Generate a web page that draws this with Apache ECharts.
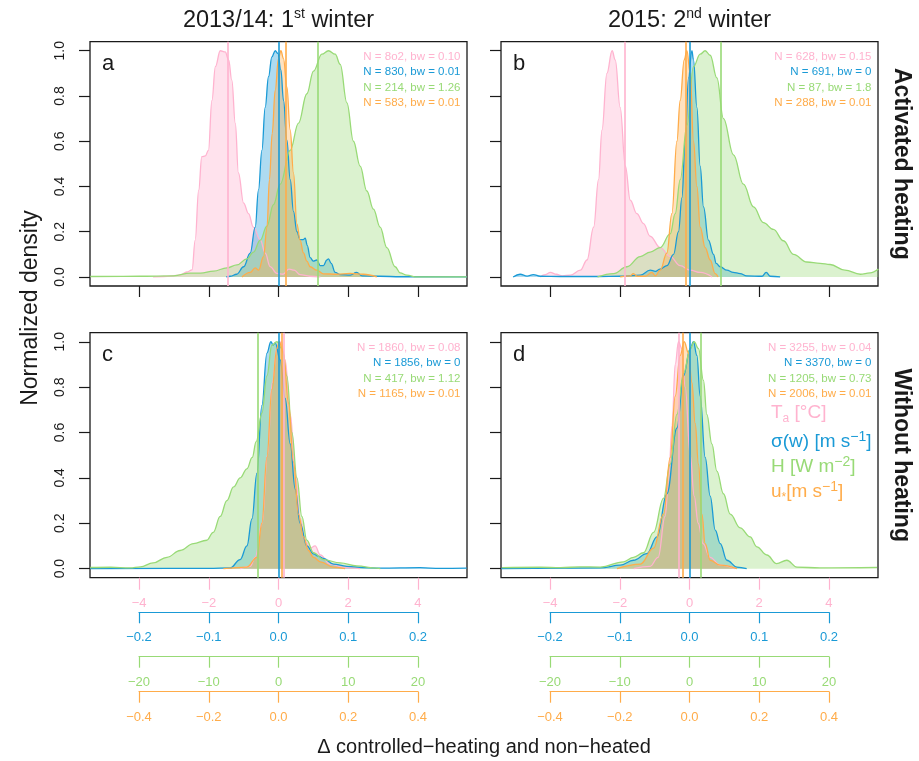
<!DOCTYPE html>
<html>
<head>
<meta charset="utf-8">
<script src="https://cdn.jsdelivr.net/npm/echarts@6/dist/echarts.min.js"></script>
<style>
  html, body { margin: 0; padding: 0; background: #ffffff; }
  #chart { width: 919px; height: 761px; }
</style>
</head>
<body>
<div id="chart"></div>
<script>
// ---------- tick values of the four variable scales ----------
const taTicks = [-4, -2, 0, 2, 4];            // Ta [°C]
const sigmaTicks = [-0.2, -0.1, 0, 0.1, 0.2]; // sigma(w) [m s-1]
const hTicks = [-20, -10, 0, 10, 20];         // H [W m-2]
const ustarTicks = [-0.4, -0.2, 0, 0.2, 0.4]; // u* [m s-1]
const densityTicks = [0, 0.2, 0.4, 0.6, 0.8, 1.0];

// ---------- column / row headings ----------
const winterTitles = [['2013/14: 1', 'st', ' winter'], ['2015: 2', 'nd', ' winter']];
const rowTitles = ['Activated heating', 'Without heating'];
const xTitle = '\u0394 controlled\u2212heating and non\u2212heated';
const yTitle = 'Normalized density';
const panelLetters = ['a', 'b', 'c', 'd'];

// ---------- normalized densities [difference, density] ----------
// 2013/14, activated heating
const taHeated1314 = [[-3.6,0],[-3.3,0.002],[-2.82,0.008],[-2.63,0.022],[-2.48,0.031],[-2.39,0.163],[-2.29,0.384],[-2.2,0.532],[-2.1,0.535],[-2.01,0.56],[-1.91,0.78],[-1.81,0.93],[-1.67,1.0],[-1.53,0.995],[-1.43,0.96],[-1.34,0.87],[-1.24,0.68],[-1.15,0.46],[-1.0,0.326],[-0.86,0.28],[-0.72,0.22],[-0.52,0.163],[-0.38,0.105],[-0.24,0.046],[-0.05,0.016],[0.13,0.012],[0.3,0.035],[0.45,0.03],[0.62,0.01],[0.9,0.003],[1.2,0]];
const sigmaHeated1314 = [[-0.075,0],[-0.069,0.003],[-0.06,0.012],[-0.05,0.045],[-0.0406,0.105],[-0.0334,0.22],[-0.0287,0.385],[-0.0238,0.56],[-0.0191,0.75],[-0.0143,0.885],[-0.0095,0.973],[-0.0047,1.0],[-0.0009,0.988],[0.0034,0.915],[0.0072,0.78],[0.012,0.605],[0.0168,0.43],[0.0215,0.29],[0.0264,0.2],[0.0311,0.165],[0.0354,0.165],[0.0383,0.172],[0.0412,0.14],[0.0455,0.085],[0.0498,0.07],[0.055,0.075],[0.0598,0.05],[0.0645,0.05],[0.0694,0.075],[0.0717,0.08],[0.0756,0.06],[0.0813,0.02],[0.0885,0.01],[0.103,0.008],[0.112,0.02],[0.12,0.005],[0.146,0.003],[0.175,0.001],[0.27,0]];
const hHeated1314 = [[-27,0.002],[-20,0.003],[-15.05,0.005],[-12.66,0.017],[-11.2,0.017],[-9.32,0.026],[-7.4,0.04],[-5.96,0.053],[-4.53,0.08],[-3.58,0.11],[-2.62,0.163],[-1.66,0.225],[-0.72,0.32],[0.24,0.41],[1.68,0.56],[2.87,0.68],[4.07,0.81],[5.02,0.91],[6.22,0.985],[7.17,1.0],[8.13,0.985],[8.85,0.94],[9.81,0.77],[10.75,0.6],[11.71,0.49],[12.67,0.38],[13.62,0.3],[14.58,0.22],[15.54,0.13],[16.73,0.045],[17.45,0.018],[18.4,0.008],[19.84,0],[27,0]];
const ustarHeated1314 = [[-0.105,0],[-0.081,0.02],[-0.067,0.04],[-0.057,0.03],[-0.043,0.09],[-0.033,0.22],[-0.026,0.43],[-0.018,0.635],[-0.0095,0.825],[0,0.965],[0.0069,1.0],[0.0143,0.965],[0.024,0.84],[0.0335,0.65],[0.043,0.46],[0.0527,0.235],[0.062,0.163],[0.0717,0.106],[0.0814,0.07],[0.0909,0.045],[0.11,0.03],[0.129,0.014],[0.167,0.012],[0.2055,0.016],[0.2437,0.012],[0.282,0]];

// 2015, activated heating
const taHeated2015 = [[-4.28,0],[-4.14,0.01],[-3.99,0.02],[-3.82,0.012],[-3.65,0.005],[-3.42,0.008],[-3.13,0.03],[-2.94,0.075],[-2.75,0.22],[-2.61,0.43],[-2.51,0.65],[-2.37,0.9],[-2.22,1.0],[-2.13,0.96],[-1.99,0.75],[-1.84,0.49],[-1.7,0.34],[-1.51,0.28],[-1.32,0.236],[-1.13,0.18],[-0.84,0.13],[-0.55,0.09],[-0.27,0.05],[0.02,0.03],[0.31,0.02],[0.65,0]];
const sigmaHeated2015 = [[-0.253,0],[-0.243,0.012],[-0.233,0.004],[-0.224,0.01],[-0.214,0.003],[-0.185,0.002],[-0.131,0.002],[-0.099,0.003],[-0.0707,0.008],[-0.0564,0.03],[-0.049,0.025],[-0.042,0.035],[-0.0324,0.05],[-0.0229,0.1],[-0.0158,0.2],[-0.0109,0.35],[-0.0062,0.6],[-0.0014,0.88],[0.0034,1.0],[0.0057,0.96],[0.0106,0.75],[0.0153,0.49],[0.0201,0.31],[0.0272,0.163],[0.0344,0.1],[0.0383,0.06],[0.044,0.045],[0.0536,0.03],[0.0627,0.02],[0.0727,0.015],[0.082,0.005],[0.104,0.003],[0.11,0.02],[0.116,0.003],[0.13,0]];
const hHeated2015 = [[-13.2,0],[-10.9,0.015],[-8.97,0.045],[-7.07,0.09],[-5.63,0.11],[-4.2,0.13],[-2.77,0.19],[-2.05,0.28],[-1.33,0.43],[-0.37,0.67],[0.57,0.93],[1.53,0.985],[2.25,1.0],[2.97,0.98],[3.93,0.88],[4.87,0.7],[6.31,0.54],[7.74,0.41],[9.18,0.31],[10.61,0.24],[12.04,0.21],[13.48,0.16],[14.91,0.1],[16.83,0.066],[18.74,0.06],[20.17,0.055],[22.3,0.03],[24.5,0.012],[25.9,0.018],[27.1,0.035]];
const ustarHeated2015 = [[-0.199,0],[-0.17,0.005],[-0.161,0.015],[-0.15,0.003],[-0.127,0.003],[-0.108,0.02],[-0.098,0.005],[-0.084,0.03],[-0.065,0.105],[-0.0505,0.28],[-0.0361,0.6],[-0.0267,0.78],[-0.0152,0.96],[-0.0075,1.0],[0.002,0.9],[0.0115,0.6],[0.0212,0.4],[0.0307,0.22],[0.045,0.13],[0.0593,0.075],[0.0737,0.015],[0.082,0]];

// 2013/14, without heating
const taUnheated1314 = [[-1.1,0],[-0.81,0.01],[-0.67,0.05],[-0.47,0.2],[-0.32,0.5],[-0.18,0.82],[-0.04,0.98],[0.08,1.0],[0.19,0.92],[0.34,0.68],[0.48,0.42],[0.62,0.22],[0.77,0.12],[0.91,0.09],[1.05,0.1],[1.2,0.06],[1.48,0.02],[1.91,0.005],[2.34,0]];
const sigmaUnheated1314 = [[-0.27,0],[-0.1,0.001],[-0.0693,0.003],[-0.055,0.04],[-0.0453,0.1],[-0.038,0.22],[-0.031,0.42],[-0.0238,0.72],[-0.0166,0.95],[-0.0109,1.0],[-0.0076,0.985],[-0.0047,0.995],[0.0024,0.92],[0.0096,0.75],[0.0168,0.55],[0.024,0.35],[0.031,0.2],[0.0407,0.1],[0.0502,0.065],[0.057,0.055],[0.0645,0.045],[0.0789,0.02],[0.098,0.01],[0.122,0.005],[0.146,0.002],[0.203,0.004],[0.232,0.001],[0.27,0.002]];
const hUnheated1314 = [[-27,0.005],[-24.1,0.006],[-21.3,0.003],[-19.8,0.008],[-18,0.025],[-16,0.05],[-14.1,0.08],[-12.2,0.11],[-10.3,0.125],[-9.36,0.16],[-8.36,0.23],[-7.4,0.3],[-6.45,0.36],[-5.49,0.4],[-4.53,0.44],[-3.77,0.49],[-3.2,0.56],[-2.38,0.686],[-1.66,0.85],[-0.95,0.985],[-0.23,1.0],[0.49,0.97],[1.2,0.85],[1.92,0.6],[2.64,0.4],[3.35,0.23],[4.07,0.125],[5.02,0.07],[6.45,0.04],[8.85,0.025],[11.24,0.012],[14.1,0.002],[14.6,0]];
const ustarUnheated1314 = [[-0.158,0],[-0.0906,0.007],[-0.062,0.05],[-0.0476,0.2],[-0.0333,0.49],[-0.0189,0.79],[-0.0046,0.97],[0.002,1.0],[0.0143,0.95],[0.0287,0.73],[0.043,0.47],[0.0573,0.24],[0.0717,0.14],[0.086,0.08],[0.1,0.05],[0.12,0.03],[0.158,0.007],[0.191,0]];

// 2015, without heating
const taUnheated2015 = [[-1.6,0],[-1.13,0.01],[-0.9,0.05],[-0.7,0.23],[-0.6,0.39],[-0.5,0.63],[-0.41,0.9],[-0.315,1.0],[-0.22,0.97],[-0.123,0.8],[0.02,0.5],[0.135,0.32],[0.25,0.2],[0.39,0.11],[0.59,0.05],[0.88,0.015],[1.31,0]];
const sigmaUnheated2015 = [[-0.27,0],[-0.128,0.003],[-0.0994,0.015],[-0.0803,0.037],[-0.0611,0.066],[-0.0467,0.14],[-0.0324,0.33],[-0.018,0.62],[-0.0086,0.85],[0.001,0.97],[0.0057,1.0],[0.0106,0.94],[0.0153,0.76],[0.0225,0.49],[0.0297,0.32],[0.0369,0.17],[0.0441,0.11],[0.0536,0.037],[0.068,0.007],[0.082,0]];
const hUnheated2015 = [[-26.9,0.004],[-21.4,0.006],[-18.5,0.004],[-15.7,0.008],[-12.8,0.007],[-9.46,0.03],[-8.03,0.05],[-6.6,0.07],[-5.16,0.16],[-3.73,0.31],[-2.77,0.46],[-1.81,0.68],[-0.86,0.86],[0.1,0.97],[0.67,1.0],[1.29,0.97],[2.0,0.83],[2.49,0.68],[3.21,0.55],[3.93,0.43],[4.87,0.33],[5.84,0.24],[7.27,0.18],[8.7,0.14],[9.66,0.096],[11.1,0.06],[12.5,0.022],[13.96,0.037],[15.4,0.007],[18.7,0.003],[26.9,0.005]];
const ustarUnheated2015 = [[-0.208,0],[-0.141,0.02],[-0.103,0.09],[-0.0745,0.24],[-0.0553,0.49],[-0.041,0.76],[-0.0267,0.94],[-0.0152,1.0],[-0.0029,0.95],[0.0069,0.82],[0.0163,0.64],[0.0258,0.46],[0.0356,0.24],[0.045,0.11],[0.0593,0.037],[0.088,0.015],[0.136,0]];

// medians (Ta, sigma(w), H, u*) drawn as vertical lines
const mediansHeated1314 = [-1.46, 0.001, 5.65, 0.0155];
const mediansHeated2015 = [-1.87, 0.002, 4.5, -0.0075];
const mediansUnheated1314 = [0.16, 0.0, -3.01, 0.0126];
const mediansUnheated2015 = [-0.324, 0.0, 1.63, -0.0172];

// sample sizes and kernel bandwidths
const infoHeated1314 = ['N = 8o2, bw = 0.10', 'N = 830, bw = 0.01', 'N = 214, bw = 1.26', 'N = 583, bw = 0.01'];
const infoHeated2015 = ['N = 628, bw = 0.15', 'N = 691, bw = 0', 'N = 87, bw = 1.8', 'N = 288, bw = 0.01'];
const infoUnheated1314 = ['N = 1860, bw = 0.08', 'N = 1856, bw = 0', 'N = 417, bw = 1.12', 'N = 1165, bw = 0.01'];
const infoUnheated2015 = ['N = 3255, bw = 0.04', 'N = 3370, bw = 0', 'N = 1205, bw = 0.73', 'N = 2006, bw = 0.01'];

// ---------- styling ----------
const FONT = '"Liberation Sans", Arial, Helvetica, sans-serif';
const INK = '#1a1a1a';
const lineColors = ['#FFB3CF', '#1A9AD6', '#98DA76', '#FFAC4A'];
const fillColors = ['rgba(255,179,207,0.55)', 'rgba(26,154,214,0.5)', 'rgba(152,218,118,0.5)', 'rgba(255,172,74,0.5)'];
const tickSets = [taTicks, sigmaTicks, hTicks, ustarTicks];
const tickDigits = [0, 1, 0, 1];
const EXPAND = 1.352; // plotting range beyond the outer ticks

function tickText(v, digits) {
  return v.toFixed(digits).replace('-', '\u2212');
}

const colCenters = [278.5, 689.5];
const HALF = 139.5; // px from centre to outer tick
const panels = [
  { col: 0, top: 41.7, height: 244.3, curves: [taHeated1314, sigmaHeated1314, hHeated1314, ustarHeated1314], medians: mediansHeated1314, info: infoHeated1314 },
  { col: 1, top: 41.7, height: 244.3, curves: [taHeated2015, sigmaHeated2015, hHeated2015, ustarHeated2015], medians: mediansHeated2015, info: infoHeated2015 },
  { col: 0, top: 332.7, height: 245, curves: [taUnheated1314, sigmaUnheated1314, hUnheated1314, ustarUnheated1314], medians: mediansUnheated1314, info: infoUnheated1314 },
  { col: 1, top: 332.7, height: 245, curves: [taUnheated2015, sigmaUnheated2015, hUnheated2015, ustarUnheated2015], medians: mediansUnheated2015, info: infoUnheated2015 }
];
const PANEL_W = 377;

const grid = [], xAxis = [], yAxis = [], series = [], graphic = [];

panels.forEach((p, pi) => {
  const left = colCenters[p.col] - PANEL_W / 2;
  const bottomRow = pi >= 2;
  grid.push({ left: left, top: p.top, width: PANEL_W, height: p.height, show: true,
    borderColor: INK, borderWidth: 1.3, backgroundColor: 'transparent', containLabel: false, outerBoundsMode: 'none' });

  for (let vi = 0; vi < 4; vi++) {
    const tmax = tickSets[vi][tickSets[vi].length - 1];
    const ax = { gridIndex: pi, type: 'value', min: -tmax * EXPAND, max: tmax * EXPAND,
      position: 'bottom', show: vi === 0, splitLine: { show: false }, axisLine: { show: false, onZero: false } };
    if (vi === 0) {
      ax.axisTick = { show: true, inside: false, customValues: taTicks, length: bottomRow ? 12 : 11,
        lineStyle: { color: bottomRow ? lineColors[0] : INK, width: 1.2 } };
      ax.axisLabel = bottomRow
        ? { show: true, customValues: taTicks, color: lineColors[0], fontSize: 13, fontFamily: FONT, margin: 19,
            showMinLabel: true, showMaxLabel: true, formatter: v => tickText(v, 0) }
        : { show: false };
    }
    xAxis.push(ax);
  }

  yAxis.push({ gridIndex: pi, type: 'value', min: -0.04, max: 1.04, position: 'left',
    axisLine: { show: false, onZero: false }, splitLine: { show: false },
    axisTick: { show: true, customValues: densityTicks, length: 11, lineStyle: { color: INK, width: 1.2 } },
    axisLabel: { show: p.col === 0, customValues: densityTicks, rotate: 90, margin: 23, fontSize: 14,
      color: INK, fontFamily: FONT, formatter: v => v.toFixed(1) } });

  for (let vi = 0; vi < 4; vi++) {
    series.push({
      type: 'line', xAxisIndex: pi * 4 + vi, yAxisIndex: pi, data: p.curves[vi],
      symbol: 'none', smooth: 0.4, smoothMonotone: 'x', silent: true, animation: false,
      lineStyle: { color: lineColors[vi], width: 1.3 }, itemStyle: { color: lineColors[vi] },
      areaStyle: { color: fillColors[vi] },
      markLine: { silent: true, symbol: ['none', 'none'], animation: false, label: { show: false },
        lineStyle: { color: lineColors[vi], width: 1.6, type: 'solid' },
        data: [{ xAxis: p.medians[vi] }] }
    });
  }

  // panel letter
  graphic.push({ type: 'text', x: left + 12, y: p.top + 22,
    style: { text: panelLetters[pi], fontSize: 22, fontFamily: FONT, fill: INK, align: 'left', verticalAlign: 'middle' } });
  // N / bandwidth notes
  const offs = [15, 30.5, 46, 61.5];
  p.info.forEach((t, i) => {
    graphic.push({ type: 'text', x: left + PANEL_W - 6.5, y: p.top + offs[i],
      style: { text: t, fontSize: 11.5, fontFamily: FONT, fill: lineColors[i], align: 'right', verticalAlign: 'middle' } });
  });
});

// stacked scales for sigma(w), H and u* under each column
const scaleLineY = [612.3, 656.7, 691.7];
[0, 1].forEach(col => {
  for (let vi = 1; vi < 4; vi++) {
    const gi = grid.length;
    grid.push({ left: colCenters[col] - HALF, width: 2 * HALF, top: scaleLineY[vi - 1] - 1, height: 1,
      show: false, containLabel: false, outerBoundsMode: 'none' });
    yAxis.push({ gridIndex: gi, type: 'value', min: 0, max: 1, show: false });
    const ticks = tickSets[vi];
    const tmax = ticks[ticks.length - 1];
    xAxis.push({ gridIndex: gi, type: 'value', min: -tmax, max: tmax, position: 'bottom',
      splitLine: { show: false },
      axisLine: { show: true, onZero: false, lineStyle: { color: lineColors[vi], width: 1.2 } },
      axisTick: { show: true, inside: false, customValues: ticks, length: 11, lineStyle: { color: lineColors[vi], width: 1.2 } },
      axisLabel: { show: true, customValues: ticks, color: lineColors[vi], fontSize: 13, fontFamily: FONT, margin: 19,
        showMinLabel: true, showMaxLabel: true, formatter: v => tickText(v, tickDigits[vi]) } });
  }
});

// column titles
winterTitles.forEach((t, c) => {
  graphic.push({ type: 'text', x: colCenters[c], y: 21,
    style: { text: '{m|' + t[0] + '}{s|' + t[1] + '}{m|' + t[2] + '}', align: 'center', verticalAlign: 'middle',
      rich: { m: { fontSize: 23.5, fontFamily: FONT, fill: INK, lineHeight: 28 },
              s: { fontSize: 14, fontFamily: FONT, fill: INK, verticalAlign: 'top', lineHeight: 28 } } } });
});
// row titles
rowTitles.forEach((t, r) => {
  const p = panels[r * 2];
  graphic.push({ type: 'text', x: 901, y: p.top + p.height / 2, rotation: -Math.PI / 2,
    style: { text: t, fontSize: 23, fontWeight: 'bold', fontFamily: FONT, fill: INK, align: 'center', verticalAlign: 'middle' } });
});
// axis titles
graphic.push({ type: 'text', x: 31, y: 308, rotation: Math.PI / 2,
  style: { text: yTitle, fontSize: 23, fontFamily: FONT, fill: INK, align: 'center', verticalAlign: 'middle' } });
graphic.push({ type: 'text', x: 484, y: 747,
  style: { text: xTitle, fontSize: 20, fontFamily: FONT, fill: INK, align: 'center', verticalAlign: 'middle' } });

// variable key in the lower-right panel
const keyTexts = [
  { text: '{m|T}{sub|a}{m| [\u00B0C]}', color: lineColors[0] },
  { text: '{m|\u03C3(w) [m s}{sup|\u22121}{m|]}', color: lineColors[1] },
  { text: '{m|H [W m}{sup|\u22122}{m|]}', color: lineColors[2] },
  { text: '{m|u}{sub|*}{m|[m s}{sup|\u22121}{m|]}', color: lineColors[3] }
];
const keyY = [413, 442, 467, 492];
keyTexts.forEach((k, i) => {
  graphic.push({ type: 'text', x: 771, y: keyY[i],
    style: { text: k.text, align: 'left', verticalAlign: 'middle',
      rich: { m: { fontSize: 19, fontFamily: FONT, fill: k.color, lineHeight: 24 },
              sup: { fontSize: 14, fontFamily: FONT, fill: k.color, verticalAlign: 'top', lineHeight: 24 },
              sub: { fontSize: 12, fontFamily: FONT, fill: k.color, verticalAlign: 'bottom', lineHeight: 24 } } } });
});

const chart = echarts.init(document.getElementById('chart'), null, { renderer: 'canvas', width: 919, height: 761 });
chart.setOption({
  animation: false,
  backgroundColor: '#ffffff',
  textStyle: { fontFamily: FONT },
  grid: grid, xAxis: xAxis, yAxis: yAxis, series: series, graphic: graphic
});
</script>
</body>
</html>
